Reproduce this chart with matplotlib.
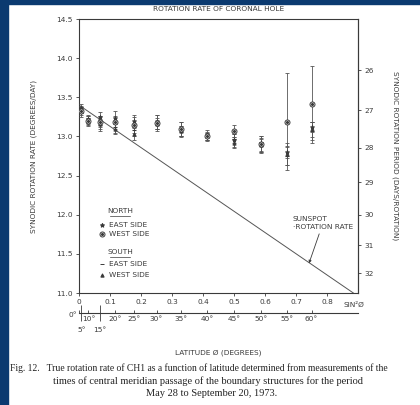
import numpy as np
import matplotlib
matplotlib.use("Agg")
import matplotlib.pyplot as plt
from matplotlib.patches import Rectangle

# ---------------- data ----------------
lat_deg = [5, 10, 15, 20, 25, 30, 35, 40, 45, 50, 55, 60]

ne_rate = [13.36, 13.22, 13.25, 13.24, 13.20, 13.19, 13.10, 13.02, 12.95, 12.91, 12.80, 13.12]
ne_err = [0.05, 0.05, 0.06, 0.08, 0.08, 0.09, 0.09, 0.06, 0.08, 0.10, 0.08, 0.06]

nw_rate = [13.33, 13.20, 13.19, 13.18, 13.15, 13.17, 13.09, 13.01, 13.07, 12.90, 13.19, 13.41]
nw_err = [0.06, 0.06, 0.07, 0.08, 0.10, 0.10, 0.09, 0.05, 0.08, 0.10, 0.62, 0.49]

se_rate = [13.30, 13.18, 13.14, 13.12, 13.08, 13.15, 13.06, 12.99, 12.97, 12.88, 12.75, 13.07]
se_err = [0.05, 0.05, 0.07, 0.07, 0.07, 0.06, 0.07, 0.05, 0.06, 0.09, 0.12, 0.11]

sw_rate = [13.34, 13.21, 13.16, 13.10, 13.03, 13.16, 13.07, 13.00, 12.92, 12.89, 12.78, 13.09]
sw_err = [0.04, 0.05, 0.06, 0.07, 0.08, 0.07, 0.06, 0.05, 0.07, 0.09, 0.14, 0.10]

sunspot_sinsq = [0.0, 0.885]
sunspot_rate = [13.40, 11.00]

rate_ticks = [11.0, 11.5, 12.0, 12.5, 13.0, 13.5, 14.0, 14.5]
sinsq_ticks = [0, 0.1, 0.2, 0.3, 0.4, 0.5, 0.6, 0.7, 0.8]
sinsq_labels = ["0", "0.1", "0.2", "0.3", "0.4", "0.5", "0.6", "0.7", "0.8"]
period_ticks = [26, 27, 28, 29, 30, 31, 32]
deg_major = [0, 10, 20, 25, 30, 35, 40, 45, 50, 55, 60]
deg_minor = [5, 15]

# ---------------- styling ----------------
INK = "#3a3a3a"
FS = 5.3
plt.rcParams["font.family"] = ["DejaVu Sans"]

fig = plt.figure(figsize=(4.2, 4.05), dpi=100)
fig.patch.set_facecolor("white")
# scanned page border
fig.add_artist(Rectangle((0, 0), 8 / 420, 1, transform=fig.transFigure,
                         color="#0b3a70", zorder=0))
fig.add_artist(Rectangle((0, 1 - 4 / 405), 1, 4 / 405, transform=fig.transFigure,
                         color="#0b3a70", zorder=0))

ax = fig.add_axes([79 / 420, 1 - 293 / 405, 279 / 420, 274 / 405])
ax.set_xlim(0, 0.9)
ax.set_ylim(11.0, 14.5)
for s in ax.spines.values():
    s.set_color(INK)
    s.set_linewidth(0.8)

def sinsq(d):
    return np.sin(np.radians(np.asarray(d, dtype=float))) ** 2

def series(rate, err, marker, ms, mfc, mew=0.6):
    x = sinsq(lat_deg)
    ax.errorbar(x, rate, yerr=err, fmt="none", ecolor="#555555", elinewidth=0.6,
                capsize=1.3, capthick=0.6, zorder=3)
    ax.plot(x, rate, linestyle="none", marker=marker, ms=ms, mfc=mfc, mec=INK,
            mew=mew, zorder=4)

series(ne_rate, ne_err, "*", 3.2, INK)
series(se_rate, se_err, "_", 3.0, INK, 0.8)
series(sw_rate, sw_err, "^", 2.4, INK)
series(nw_rate, nw_err, "o", 3.6, "white", 0.7)
ax.plot(sinsq(lat_deg), nw_rate, linestyle="none", marker="o", ms=1.2, mfc=INK,
        mec=INK, zorder=5)

# sunspot rotation rate
ax.plot(sunspot_sinsq, sunspot_rate, color="#555555", lw=0.7, zorder=2)
ax.annotate("SUNSPOT\n·ROTATION RATE", xy=(0.742, 11.38), xytext=(0.69, 11.98),
            fontsize=FS, color=INK, ha="left", va="top", linespacing=1.3,
            arrowprops=dict(arrowstyle="-|>", color=INK, lw=0.6,
                            mutation_scale=4, shrinkA=1, shrinkB=0))

# axes ticks
ax.set_yticks(rate_ticks)
ax.set_yticklabels([f"{v:.1f}" for v in rate_ticks], fontsize=FS, color=INK)
ax.set_xticks(sinsq_ticks)
ax.set_xticklabels(sinsq_labels, fontsize=FS, color=INK)
ax.tick_params(axis="both", length=2.5, width=0.6, color=INK, pad=2)
ax.text(0.887, -0.033, "SIN²Ø", transform=ax.get_xaxis_transform(),
        fontsize=FS, color=INK, ha="center", va="top")
ax.set_ylabel("SYNODIC ROTATION RATE (DEGREES/DAY)", fontsize=FS, color=INK,
              labelpad=14)
ax.set_title("ROTATION RATE OF CORONAL HOLE", fontsize=FS, color=INK, pad=6)

# right axis: synodic period
def r2p(r):
    r = np.asarray(r, dtype=float)
    with np.errstate(divide="ignore"):
        return 360.0 / np.where(r == 0, 1e-9, r)

secy = ax.secondary_yaxis("right", functions=(r2p, r2p))
secy.set_yticks(period_ticks)
secy.set_yticklabels([str(p) for p in period_ticks], fontsize=FS, color=INK)
secy.tick_params(length=2.5, width=0.6, color=INK, pad=2)
secy.spines["right"].set_color(INK)
secy.spines["right"].set_linewidth(0.8)
secy.set_ylabel("SYNODIC ROTATION PERIOD (DAYS/ROTATION)", fontsize=FS,
                color=INK, rotation=270, labelpad=18)

# lower axis: latitude in degrees (x = sin^2 of latitude)
def x2deg(x):
    x = np.clip(np.asarray(x, dtype=float), 0, 1)
    return np.degrees(np.arcsin(np.sqrt(x)))

def deg2x(d):
    return sinsq(d)

SEC_LOC = -0.073
secx = ax.secondary_xaxis(SEC_LOC, functions=(x2deg, deg2x))
secx.set_xticks(deg_major)
secx.set_xticklabels(["" if d == 0 else f"{d}°" for d in deg_major],
                     fontsize=FS, color=INK)
secx.set_xticks(deg_minor, minor=True)
secx.set_xticklabels([f"{d}°" for d in deg_minor], minor=True, fontsize=FS,
                     color=INK)
secx.tick_params(which="major", direction="in", length=2.5, width=0.6,
                 color=INK, pad=2)
secx.tick_params(which="minor", direction="inout", length=12, width=0.6,
                 color=INK, pad=4)
secx.spines["bottom"].set_color(INK)
secx.spines["bottom"].set_linewidth(0.8)
secx.set_xlabel("LATITUDE Ø (DEGREES)", fontsize=FS, color=INK, labelpad=12)
# the 0° label sits to the left of the scale's start
ax.text(-0.008, SEC_LOC - 0.008, f"{deg_major[0]}°", transform=ax.transAxes,
        fontsize=FS, color=INK, ha="right", va="center")

# legend (drawn by hand, as in the figure)
tA = ax.transAxes
ax.text(0.147, 0.299, "NORTH", transform=tA, fontsize=FS, color=INK,
        ha="center", va="center")
ax.plot([0.112, 0.182], [0.280, 0.280], transform=tA, color=INK, lw=0.5)
ax.text(0.147, 0.150, "SOUTH", transform=tA, fontsize=FS, color=INK,
        ha="center", va="center")
ax.plot([0.112, 0.182], [0.131, 0.131], transform=tA, color=INK, lw=0.5)
rows = [(0.248, "*", 3.2, INK, "EAST SIDE"),
        (0.215, "o", 3.6, "white", "WEST SIDE"),
        (0.106, "_", 3.0, INK, "EAST SIDE"),
        (0.066, "^", 2.4, INK, "WEST SIDE")]
for yy, mk, ms, mfc, lab in rows:
    ax.plot([0.082], [yy], transform=tA, marker=mk, ms=ms, mfc=mfc, mec=INK,
            mew=0.7, linestyle="none")
    ax.text(0.106, yy, lab, transform=tA, fontsize=FS, color=INK,
            ha="left", va="center")
ax.plot([0.082], [0.215], transform=tA, marker="o", ms=1.2, mfc=INK, mec=INK,
        linestyle="none")

# caption
cap = dict(family=["Liberation Serif"], color="#222222")
fig.text(10 / 420, 1 - 368 / 405,
         "Fig. 12.   True rotation rate of CH1 as a function of latitude "
         "determined from measurements of the",
         ha="left", va="center", fontsize=6.9, **cap)
fig.text(208 / 420, 1 - 381 / 405,
         "times of central meridian passage of the boundary structures for the period",
         ha="center", va="center", fontsize=7.5, **cap)
fig.text(212 / 420, 1 - 393 / 405, "May 28 to September 20, 1973.",
         ha="center", va="center", fontsize=7.5, **cap)

fig.savefig("out.png", dpi=100)
